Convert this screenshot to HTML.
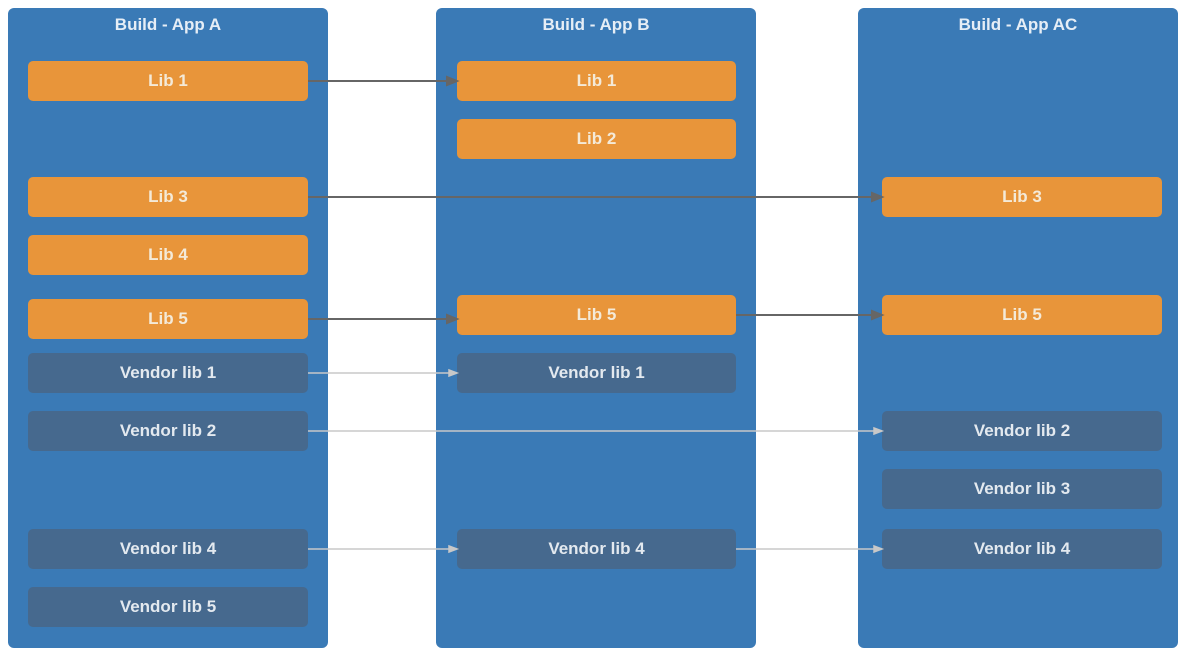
<!DOCTYPE html>
<html><head><style>
body{margin:0;width:1186px;height:656px;background:#fff;position:relative;overflow:hidden;font-family:"Liberation Sans",sans-serif}
.p{position:absolute;top:8px;width:320px;height:640px;background:#3a7ab6;border-radius:6px}
.t{position:absolute;top:7px;width:320px;text-align:center;color:#e6eef6;font-weight:bold;font-size:17px}
.b{position:absolute;height:40px;border-radius:5px;color:#f4ead8;font-weight:bold;font-size:17px;line-height:40px;text-align:center}
.o{background:#e8953a}
.v{background:#46698e;color:#e3e9ef}
svg{position:absolute;left:0;top:0}
</style></head><body>
<div class="p" style="left:8px"><div class="t" style="left:0">Build - App A</div></div>
<div class="p" style="left:436px"><div class="t" style="left:0">Build - App B</div></div>
<div class="p" style="left:858px"><div class="t" style="left:0">Build - App AC</div></div>

<div class="b o" style="left:28px;width:280px;top:61px">Lib 1</div>
<div class="b o" style="left:28px;width:280px;top:177px">Lib 3</div>
<div class="b o" style="left:28px;width:280px;top:235px">Lib 4</div>
<div class="b o" style="left:28px;width:280px;top:299px">Lib 5</div>
<div class="b v" style="left:28px;width:280px;top:353px">Vendor lib 1</div>
<div class="b v" style="left:28px;width:280px;top:411px">Vendor lib 2</div>
<div class="b v" style="left:28px;width:280px;top:529px">Vendor lib 4</div>
<div class="b v" style="left:28px;width:280px;top:587px">Vendor lib 5</div>

<div class="b o" style="left:457px;width:279px;top:61px">Lib 1</div>
<div class="b o" style="left:457px;width:279px;top:119px">Lib 2</div>
<div class="b o" style="left:457px;width:279px;top:295px">Lib 5</div>
<div class="b v" style="left:457px;width:279px;top:353px">Vendor lib 1</div>
<div class="b v" style="left:457px;width:279px;top:529px">Vendor lib 4</div>

<div class="b o" style="left:882px;width:280px;top:177px">Lib 3</div>
<div class="b o" style="left:882px;width:280px;top:295px">Lib 5</div>
<div class="b v" style="left:882px;width:280px;top:411px">Vendor lib 2</div>
<div class="b v" style="left:882px;width:280px;top:469px">Vendor lib 3</div>
<div class="b v" style="left:882px;width:280px;top:529px">Vendor lib 4</div>

<svg width="1186" height="656">
<g stroke="#666" stroke-width="2" fill="#666">
<line x1="308" y1="81" x2="450" y2="81"/><polygon points="457,81 447,77 447,85"/>
<line x1="308" y1="197" x2="875" y2="197"/><polygon points="882,197 872,193 872,201"/>
<line x1="308" y1="319" x2="450" y2="319"/><polygon points="457,319 447,315 447,323"/>
<line x1="736" y1="315" x2="875" y2="315"/><polygon points="882,315 872,311 872,319"/>
</g>
<g stroke="#c8c8c8" stroke-width="1.5" fill="#c8c8c8">
<line x1="308" y1="373" x2="452" y2="373"/><polygon points="457,373 449,370 449,376"/>
<line x1="308" y1="431" x2="877" y2="431"/><polygon points="882,431 874,428 874,434"/>
<line x1="308" y1="549" x2="452" y2="549"/><polygon points="457,549 449,546 449,552"/>
<line x1="736" y1="549" x2="877" y2="549"/><polygon points="882,549 874,546 874,552"/>
</g>
</svg>
</body></html>
